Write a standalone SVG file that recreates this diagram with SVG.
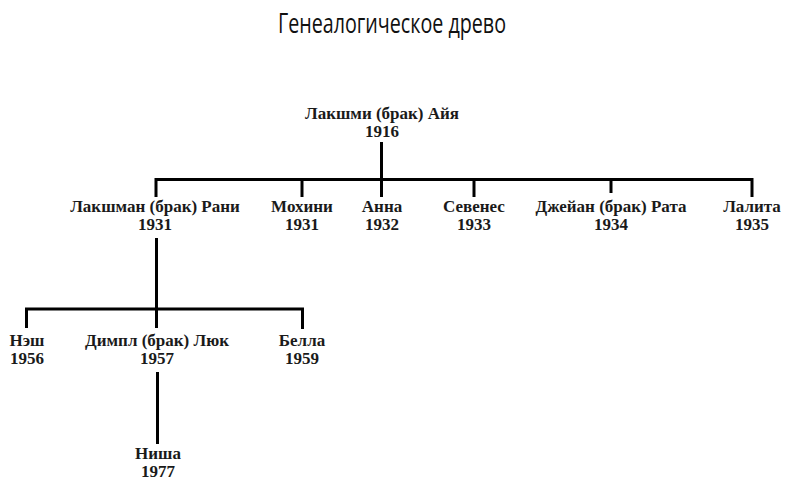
<svg xmlns="http://www.w3.org/2000/svg" width="790" height="489" viewBox="0 0 790 489">
<style>
.t{font-family:"Liberation Serif","DejaVu Serif",serif;font-weight:bold;font-size:17px;fill:#1a1a1a;text-anchor:middle}
.title{font-family:"Open Sans","Noto Sans",sans-serif;font-size:27px;fill:#111;text-anchor:middle}
.c{stroke:#000;stroke-width:3;fill:none;stroke-linecap:butt}
</style>
<rect width="790" height="489" fill="#fff"/>
<text class="title" x="392" y="33" textLength="228" lengthAdjust="spacingAndGlyphs">Генеалогическое древо</text>
<g id="connectors">
<path class="c" d="M381.5 142V197"/>
<path class="c" d="M156 197V179.5H752V197"/>
<path class="c" d="M302 179.5V197"/>
<path class="c" d="M474 179.5V197"/>
<path class="c" d="M611 179.5V193"/>
<path class="c" d="M156.5 238V328"/>
<path class="c" d="M26.5 328V309H302.5V329"/>
<path class="c" d="M157.5 372V444"/>
</g>
<g id="n-lakshmi"><text class="t" x="382" y="119">Лакшми (брак) Айя</text><text class="t" x="382" y="137">1916</text></g>
<g id="n-lakshman"><text class="t" x="155" y="212">Лакшман (брак) Рани</text><text class="t" x="155" y="230">1931</text></g>
<g id="n-mohini"><text class="t" x="302" y="212">Мохини</text><text class="t" x="302" y="230">1931</text></g>
<g id="n-anna"><text class="t" x="382" y="212">Анна</text><text class="t" x="382" y="230">1932</text></g>
<g id="n-sevenes"><text class="t" x="474" y="212">Севенес</text><text class="t" x="474" y="230">1933</text></g>
<g id="n-jeyan"><text class="t" x="611" y="212">Джейан (брак) Рата</text><text class="t" x="611" y="230">1934</text></g>
<g id="n-lalita"><text class="t" x="752" y="212">Лалита</text><text class="t" x="752" y="230">1935</text></g>
<g id="n-nash"><text class="t" x="27" y="346">Нэш</text><text class="t" x="27" y="364">1956</text></g>
<g id="n-dimpl"><text class="t" x="157" y="346">Димпл (брак) Люк</text><text class="t" x="157" y="364">1957</text></g>
<g id="n-bella"><text class="t" x="302" y="346">Белла</text><text class="t" x="302" y="364">1959</text></g>
<g id="n-nisha"><text class="t" x="158" y="459">Ниша</text><text class="t" x="158" y="477">1977</text></g>
</svg>
